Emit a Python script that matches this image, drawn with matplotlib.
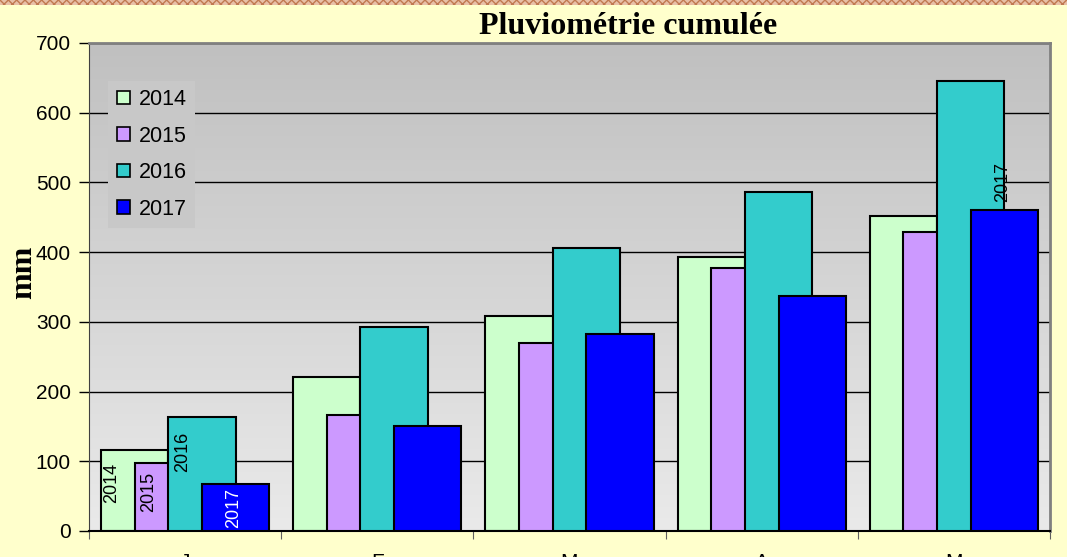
import numpy as np
import matplotlib
matplotlib.use('Agg')
import matplotlib.pyplot as plt
from matplotlib.colors import LinearSegmentedColormap
from matplotlib.patches import Rectangle

# cumulative rainfall (mm)
months = ['J', 'F', 'M', 'A', 'M']
years = ['2014', '2015', '2016', '2017']
rain_2014 = [116, 221, 308, 393, 452]
rain_2015 = [98, 166, 270, 377, 429]
rain_2016 = [164, 292, 406, 486, 645]
rain_2017 = [67, 151, 283, 337, 460]
series = [rain_2014, rain_2015, rain_2016, rain_2017]
colors = ['#CCFFCC', '#CC99FF', '#33CCCC', '#0000FF']

fig = plt.figure(figsize=(10.67, 5.57), dpi=100, facecolor='#FFFFCC')
ax = fig.add_axes([89/1067, 1-531/557, (1050-89)/1067, (531-43)/557])

# hatched strip along the top edge
fig.patches.append(Rectangle((0, 1-5/557), 1, 5/557, transform=fig.transFigure,
                             facecolor='#E8C0A8', edgecolor='#C07850', hatch='xxxx',
                             linewidth=0, zorder=0))

# gradient plot area
grad = LinearSegmentedColormap.from_list('g', ['#C0C0C0', '#EAEAEA'])
ax.imshow(np.linspace(0, 1, 256).reshape(-1, 1), cmap=grad, extent=[-0.5, 4.5, 0, 700],
          aspect='auto', zorder=0)

x = np.arange(len(months))
w = 0.35
step = 0.175
for i, (vals, c) in enumerate(zip(series, colors)):
    ax.bar(x + (i - 1.5) * step, vals, width=w, color=c, edgecolor='black',
           linewidth=1.5, zorder=2 + i, label=years[i])

# data labels
lab_font = dict(family='Liberation Sans', fontsize=13, rotation=90, ha='center', va='center')
ax.text(x[0] - 1.5 * step - 0.12, rain_2014[0] * 0.6, '2014', color='black', zorder=10, **lab_font)
ax.text(x[0] - 0.5 * step - 0.10, rain_2015[0] * 0.57, '2015', color='black', zorder=10, **lab_font)
ax.text(x[0] + 0.5 * step - 0.10, rain_2016[0] * 0.69, '2016', color='black', zorder=10, **lab_font)
ax.text(x[0] + 1.5 * step - 0.01, rain_2017[0] * 0.5, '2017', color='white', zorder=10, **lab_font)
ax.text(x[4] + 1.5 * step - 0.01, rain_2017[4] + 40, '2017', color='black', zorder=10, **lab_font)

ax.set_xlim(-0.5, 4.5)
ax.set_ylim(0, 700)
ax.set_yticks(np.arange(0, 701, 100))
ax.yaxis.grid(True, color='black', linewidth=1.0, zorder=1)
ax.set_axisbelow(True)
ax.set_xticks(np.arange(-0.5, 4.6, 1))
ax.set_xticklabels([])
ax.set_xticks(x, minor=True)
ax.set_xticklabels(months, minor=True)
ax.tick_params(axis='x', which='minor', length=0, pad=16, labelsize=15)
ax.tick_params(axis='x', which='major', length=6, color='#606060', direction='out')
ax.tick_params(axis='y', length=7, width=1, labelsize=15, pad=6)
for lbl in ax.get_yticklabels() + ax.get_xticklabels(minor=True):
    lbl.set_family('Liberation Sans')

ax.spines['top'].set_color('#808080')
ax.spines['top'].set_linewidth(2)
ax.spines['right'].set_color('#808080')
ax.spines['right'].set_linewidth(2)
ax.spines['left'].set_color('#404040')
ax.spines['bottom'].set_color('black')
ax.spines['bottom'].set_linewidth(1.5)

fig.text(24/1067, 1-272/557, 'mm', family='Liberation Serif', fontweight='bold',
         fontsize=23, rotation=90, ha='center', va='center')
fig.text(628/1067, 1-27/557, 'Pluviométrie cumulée', family='Liberation Serif',
         fontweight='bold', fontsize=23, ha='center', va='center')

leg = ax.legend(loc='upper left', bbox_to_anchor=(0.009, 0.945), frameon=True,
                fancybox=False, facecolor='#C8C8C8', edgecolor='none', framealpha=1,
                handlelength=0.6, handleheight=0.6, handletextpad=0.4, labelspacing=0.72,
                borderpad=0.4, prop={'family': 'Liberation Sans', 'size': 15.5})
for h in leg.legend_handles:
    h.set_linewidth(1.2)
leg.set_zorder(20)

fig.savefig('out.png', dpi=100, facecolor=fig.get_facecolor())
